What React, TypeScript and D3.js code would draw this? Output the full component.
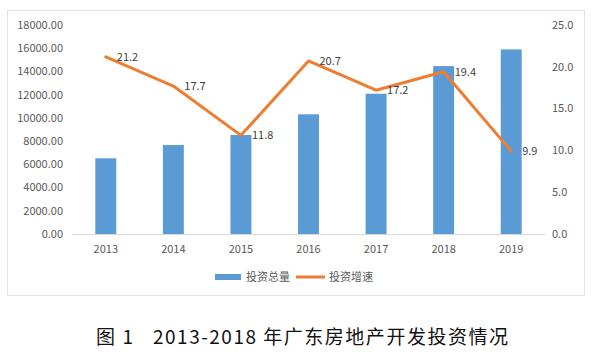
import React from "react";
import * as d3 from "d3";

const years = ["2013", "2014", "2015", "2016", "2017", "2018", "2019"];
const totals = [6520, 7660, 8530, 10310, 12080, 14460, 15900];
const growth = [21.2, 17.7, 11.8, 20.7, 17.2, 19.4, 9.9];
const leftTicks = [0, 2000, 4000, 6000, 8000, 10000, 12000, 14000, 16000, 18000];
const rightTicks = [0, 5, 10, 15, 20, 25];
const legendLabels = ["投资总量", "投资增速"];
const titleNum = "图 1";
const titleText = "2013-2018 年广东房地产开发投资情况";

const W = 596;
const H = 358;
const plot = { left: 72, right: 545, top: 25, bottom: 234 };
const BAR = "#5B9BD5";
const LINE = "#ED7D31";
const font = "'Noto Sans CJK SC', 'Noto Sans', sans-serif";

export default function App() {
  const x = d3.scaleBand().domain(years).range([plot.left, plot.right]).paddingInner(0.69).paddingOuter(0.345);
  const yL = d3.scaleLinear().domain([0, 18000]).range([plot.bottom, plot.top]);
  const yR = d3.scaleLinear().domain([0, 25]).range([plot.bottom, plot.top]);
  const cx = (y: string) => (x(y) as number) + x.bandwidth() / 2;
  const line = d3
    .line<number>()
    .x((_, i) => cx(years[i]))
    .y((d) => yR(d));

  return (
    <svg width={W} height={H} style={{ position: "absolute", left: 0, top: 0, background: "#fff" }}>
      <rect x={7.5} y={10.5} width={577} height={285} fill="#fff" stroke="#E3E3E3" strokeWidth={1} />
      <line x1={plot.left} x2={plot.right} y1={plot.bottom + 0.5} y2={plot.bottom + 0.5} stroke="#D9D9D9" />
      {leftTicks.map((t) => (
        <text key={"l" + t} x={63} y={yL(t)} dy="0.35em" textAnchor="end" fontSize={11} fill="#595959" fontFamily={font}>
          {t.toFixed(2)}
        </text>
      ))}
      {rightTicks.map((t) => (
        <text key={"r" + t} x={552} y={yR(t)} dy="0.35em" textAnchor="start" fontSize={11} fill="#595959" fontFamily={font}>
          {t.toFixed(1)}
        </text>
      ))}
      {years.map((y, i) => (
        <rect key={"b" + y} x={x(y)} y={yL(totals[i])} width={x.bandwidth()} height={plot.bottom - yL(totals[i])} fill={BAR} />
      ))}
      {years.map((y) => (
        <text key={"x" + y} x={cx(y)} y={249} dy="0.35em" textAnchor="middle" fontSize={11} fill="#595959" fontFamily={font}>
          {y}
        </text>
      ))}
      <path d={line(growth) as string} fill="none" stroke={LINE} strokeWidth={3} strokeLinejoin="round" strokeLinecap="round" />
      {years.map((y, i) => (
        <text key={"v" + y} x={cx(y) + 11} y={yR(growth[i])} dy="0.35em" textAnchor="start" fontSize={11} fill="#404040" fontFamily={font}>
          {growth[i].toFixed(1)}
        </text>
      ))}
      <rect x={215} y={274} width={26} height={6} fill={BAR} />
      <text x={246} y={277} dy="0.35em" fontSize={11} fill="#595959" fontFamily={font}>
        {legendLabels[0]}
      </text>
      <line x1={296} x2={325} y1={277} y2={277} stroke={LINE} strokeWidth={3} />
      <text x={329} y={277} dy="0.35em" fontSize={11} fill="#595959" fontFamily={font}>
        {legendLabels[1]}
      </text>
      <text x={96} y={344} fontSize={19} fill="#111" fontFamily={font} textLength={37} lengthAdjust="spacing">
        {titleNum}
      </text>
      <text x={153} y={344} fontSize={19} fill="#111" fontFamily={font} textLength={355} lengthAdjust="spacing">
        {titleText}
      </text>
    </svg>
  );
}
